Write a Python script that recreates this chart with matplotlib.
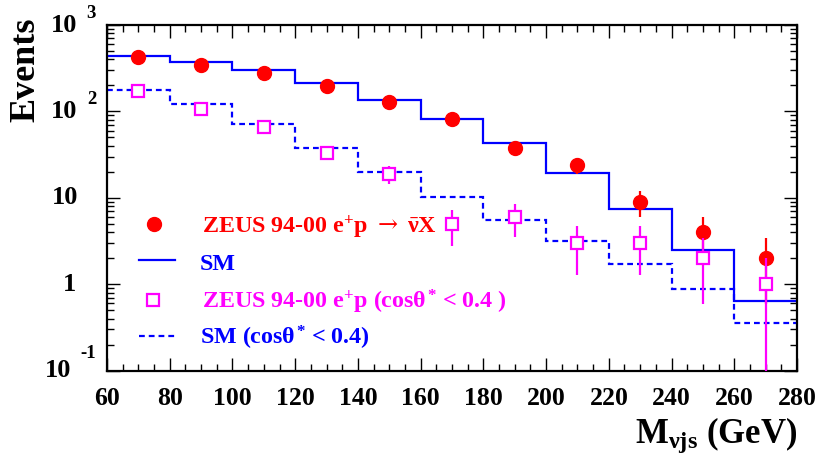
import numpy as np
import matplotlib
matplotlib.use("Agg")
import matplotlib.pyplot as plt
from matplotlib.ticker import MultipleLocator, LogLocator, NullFormatter
import matplotlib.transforms as mtransforms

plt.rcParams['font.family'] = ['Liberation Serif', 'DejaVu Serif']
plt.rcParams['font.weight'] = 'bold'
plt.rcParams['mathtext.fontset'] = 'custom'
plt.rcParams['mathtext.rm'] = 'Liberation Serif:bold'
plt.rcParams['mathtext.it'] = 'Liberation Serif:bold'
plt.rcParams['mathtext.bf'] = 'Liberation Serif:bold'
plt.rcParams['mathtext.sf'] = 'DejaVu Serif:normal'

# mass bins (GeV)
edges = [60, 80, 100, 120, 140, 160, 180, 200, 220, 240, 260, 280]
centres = [70, 90, 110, 130, 150, 170, 190, 210, 230, 250, 270]

# full sample: data and SM expectation
data_all = [430, 344, 276, 197, 130, 81, 38, 24, 9, 4, 2]
sm_all = [441, 376, 299, 211, 136, 82, 43.4, 19.5, 7.4, 2.49, 0.645]

# cos(theta*) < 0.4 selection
data_cut = [172, 107, 66, 33, 19, 5, 6, 3, 3, 2, 1]
sm_cut = [177, 123, 71, 38, 19.7, 10.1, 5.6, 3.2, 1.7, 0.88, 0.36]

RED = '#ff0000'
MAG = '#ff00ff'
BLUE = '#0000ff'
W, H = 820, 455
LEG_FS = 17.3

fig = plt.figure(figsize=(W / 100, H / 100), dpi=100)
ax = fig.add_axes([107 / W, 1 - 370.7 / H, 690 / W, 345.7 / H])


def px(x, y):
    return x / W, 1 - y / H


ax.stairs(sm_all, edges, color=BLUE, lw=1.6, baseline=None, zorder=2)
ax.stairs(sm_cut, edges, color=BLUE, lw=1.6, baseline=None,
          linestyle=(0, (2.6, 1.8)), zorder=2)

err_all = np.sqrt(data_all)
ax.errorbar(centres, data_all, yerr=err_all, fmt='o', color=RED, ms=10,
            elinewidth=1.6, capsize=0, zorder=3)

err_cut = np.sqrt(data_cut)
err_lo = np.minimum(err_cut, np.array(data_cut) * 0.9999)
ax.errorbar(centres, data_cut, yerr=[err_lo, err_cut], fmt='s', color=MAG,
            mfc='white', mec=MAG, ms=9, mew=1.6, elinewidth=1.6, capsize=0,
            zorder=4)

ax.set_yscale('log')
ax.set_xlim(60, 280)
ax.set_ylim(0.1, 1000)

ax.xaxis.set_major_locator(MultipleLocator(20))
ax.xaxis.set_minor_locator(MultipleLocator(5))
ax.yaxis.set_major_locator(LogLocator(base=10))
ax.yaxis.set_minor_locator(LogLocator(base=10, subs=np.arange(2, 10)))
ax.yaxis.set_major_formatter(NullFormatter())
ax.yaxis.set_minor_formatter(NullFormatter())

ax.tick_params(which='both', direction='in', top=True, right=True, width=1)
ax.tick_params(which='major', length=9.5)
ax.tick_params(which='minor', length=5)
ax.tick_params(axis='x', which='major', labelsize=18.5, pad=12)
for lab in ax.get_xticklabels():
    lab.set_fontweight('bold')
for sp in ax.spines.values():
    sp.set_linewidth(1.6)

# decade labels on the y axis, ROOT style
ytr = mtransforms.blended_transform_factory(fig.transFigure, ax.transData)
ex_tr = ytr + mtransforms.ScaledTranslation(0, 12 / 100, fig.dpi_scale_trans)
for val, base_x, exp, exp_x in [(1000, 77, '3', 86), (100, 77, '2', 87),
                                (10, 78, None, None), (1, 76, None, None)]:
    ax.text(base_x / W, val, '1' if val == 1 else '10', transform=ytr,
            ha='right', va='center', fontsize=19, fontweight='bold')
    if exp:
        ax.text(exp_x / W, val, exp, transform=ex_tr, ha='left',
                va='center', fontsize=13.5, fontweight='bold')
ax.text(71 / W, 0.1, '10', transform=ytr, ha='right', va='center',
        fontsize=19, fontweight='bold')
ex_tr2 = ytr + mtransforms.ScaledTranslation(0, 17 / 100, fig.dpi_scale_trans)
ax.text(80 / W, 0.1, '-1', transform=ex_tr2, ha='left', va='center',
        fontsize=13.5, fontweight='bold')

fig.text(*px(26, 18), 'Events', rotation=90, ha='center', va='top',
         fontsize=26, fontweight='bold')
fig.text(*px(797, 443), r'M$_{\nu js}$ (GeV)', ha='right', va='baseline',
         fontsize=25, fontweight='bold')

# legend
ft = fig.transFigure
x0, y0 = px(154, 224)
ax.plot([x0], [y0], 'o', color=RED, ms=10, transform=ft, clip_on=False)
xa, ya = px(139, 260)
xb, _ = px(175, 260)
ax.plot([xa, xb], [ya, ya], color=BLUE, lw=1.6, transform=ft, clip_on=False)
x0, y0 = px(153, 300)
ax.plot([x0], [y0], 's', color=MAG, mfc='white', ms=9, mew=1.6,
        transform=ft, clip_on=False)
_, yd = px(139, 336)
ax.plot([xa, xb], [yd, yd], color=BLUE, lw=1.6, linestyle=(0, (2.6, 1.8)),
        transform=ft, clip_on=False)

fig.text(*px(202, 233),
         r'ZEUS 94-00 e$^{+}$p $\mathsf{\rightarrow}$ $\bar{\nu}$X',
         color=RED, fontsize=LEG_FS, fontweight='bold', va='baseline')
fig.text(*px(200, 270), 'SM', color=BLUE, fontsize=LEG_FS,
         fontweight='bold', va='baseline')
fig.text(*px(202, 308), r'ZEUS 94-00 e$^{+}$p (cos$\theta^{*}$ < 0.4 )',
         color=MAG, fontsize=LEG_FS, fontweight='bold', va='baseline')
fig.text(*px(200, 345), r'SM (cos$\theta^{*}$ < 0.4)', color=BLUE,
         fontsize=LEG_FS, fontweight='bold', va='baseline')

fig.savefig('out.png', dpi=100)
